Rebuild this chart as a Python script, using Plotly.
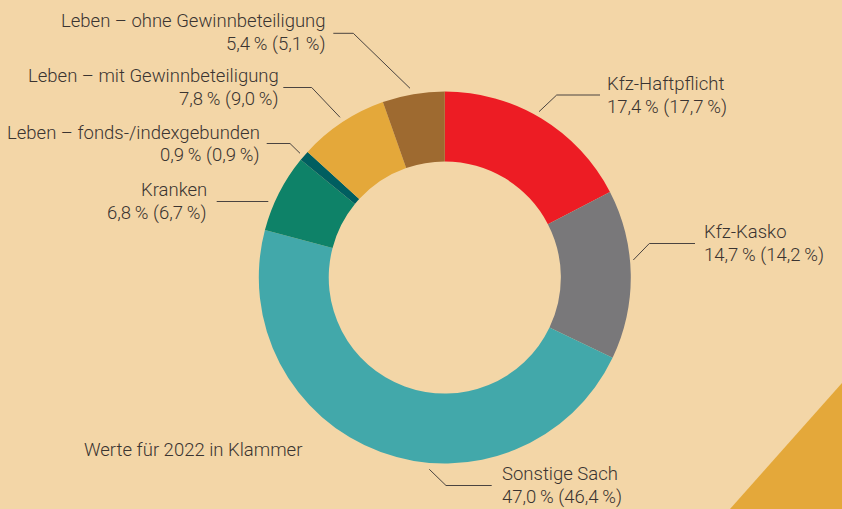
import plotly.graph_objects as go

# ---- data ----
categories = ["Kfz-Haftpflicht", "Kfz-Kasko", "Sonstige Sach", "Kranken",
              "Leben – fonds-/indexgebunden", "Leben – mit Gewinnbeteiligung",
              "Leben – ohne Gewinnbeteiligung"]
values_2023 = [17.4, 14.7, 47.0, 6.8, 0.9, 7.8, 5.4]
values_2022 = [17.7, 14.2, 46.4, 6.7, 0.9, 9.0, 5.1]
note_text = "Werte für 2022 in Klammer"

# ---- styling ----
colors = ["#ED1C24", "#79787A", "#42A8AA", "#0E8268", "#005E60", "#E4A83A", "#9E6A30"]
BG = "#F3D6A7"
TXT = "#3A3431"
LINE = "#4A4440"
FONT = "Roboto, Liberation Sans, sans-serif"
FSIZE = 18.5
W, H = 842, 509
CX, CY, R = 444.8, 277.5, 186

def fmt(v):
    return f"{v:.1f}".replace(".", ",") + "\u2009%"

# label layout: (x, y of leader horizontal, side, leader polyline in px)
label_layout = [
    (605, 95, "left", [(539, 111.7), (556.7, 95), (600, 95)]),
    (702, 243.5, "left", [(633.3, 260), (649.3, 243.5), (695, 243.5)]),
    (500, 485.5, "left", [(429.3, 469.3), (446, 485.5), (491.7, 485.5)]),
    (209, 201.5, "right", [(216.7, 201.5), (268.3, 201.5)]),
    (262, 144, "right", [(266.7, 143.5), (290, 143.5), (300, 153.3)]),
    (281, 87.5, "right", [(283.3, 87.5), (311.7, 87.5), (340, 117.3)]),
    (328, 32.5, "right", [(333.3, 33.3), (353.3, 33.3), (410, 88.3)]),
]

def px(x, y):
    return x / W, 1 - y / H

fig = go.Figure()
fig.add_trace(go.Pie(
    labels=categories, values=values_2023, sort=False, direction="clockwise",
    rotation=0, hole=0.624, textinfo="none", showlegend=False,
    marker=dict(colors=colors, line=dict(width=0)),
    domain=dict(x=[(CX - R) / W, (CX + R) / W], y=[1 - (CY + R) / H, 1 - (CY - R) / H]),
    hovertemplate="%{label}: %{value}<extra></extra>",
))

annotations = []
shapes = []
# decorative triangle
shapes.append(dict(type="path", xref="paper", yref="paper",
                   path=f"M {842/W} {1-383/H} L {730/W} {0} L {1} {0} Z",
                   fillcolor="#E4A83A", line=dict(width=0), layer="below"))

for cat, v23, v22, (lx, ly, side, pts) in zip(categories, values_2023, values_2022, label_layout):
    anchor = "left" if side == "left" else "right"
    for dy, txt in ((-11.5, cat), (11.5, f"{fmt(v23)} ({fmt(v22)})")):
        x, y = px(lx, ly + dy)
        annotations.append(dict(x=x, y=y, xref="paper", yref="paper", text=txt,
                                showarrow=False, xanchor=anchor, yanchor="middle",
                                font=dict(family=FONT, size=FSIZE, color=TXT, weight=300)))
    path = "M " + " L ".join(f"{px(a, b)[0]} {px(a, b)[1]}" for a, b in pts)
    shapes.append(dict(type="path", xref="paper", yref="paper", path=path,
                       line=dict(color=LINE, width=1)))

x, y = px(81.7, 449.5)
annotations.append(dict(x=x, y=y, xref="paper", yref="paper", text=note_text,
                        showarrow=False, xanchor="left", yanchor="middle",
                        font=dict(family=FONT, size=FSIZE, color=TXT, weight=300)))

fig.update_layout(width=W, height=H, margin=dict(l=0, r=0, t=0, b=0),
                  paper_bgcolor=BG, plot_bgcolor=BG,
                  annotations=annotations, shapes=shapes)
fig.write_html("out.html", config={"displayModeBar": False})

# remove default page margins so the figure fills the window
with open("out.html", encoding="utf-8") as f:
    html = f.read()
html = html.replace("<head>", "<head><style>html,body{margin:0;padding:0;overflow:hidden;background:%s}</style>" % BG, 1)
with open("out.html", "w", encoding="utf-8") as f:
    f.write(html)
